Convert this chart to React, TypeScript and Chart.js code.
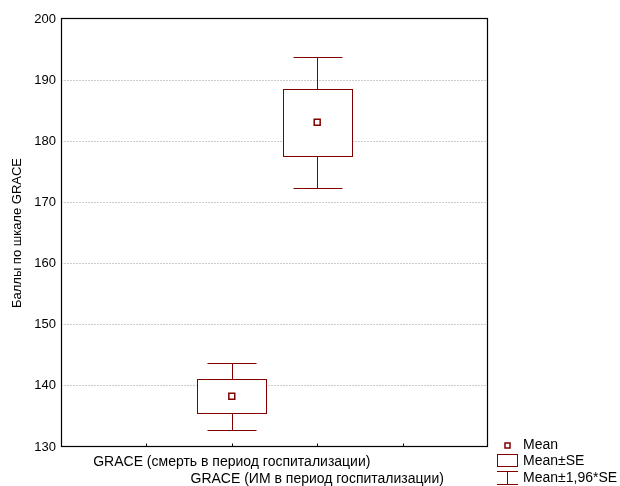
import React, { useEffect, useRef } from 'react';
import { Chart, registerables } from 'chart.js';

Chart.register(...registerables);

// Groups, their slots on the x axis, and the summary statistics per group
const categories = [
  'GRACE (смерть в период госпитализации)',
  'GRACE (ИМ в период госпитализации)',
];
const categorySlots = [2, 3];
const means = [138.3, 183.1];
const standardErrors = [2.8, 5.45];
const ciMultiplier = 1.96;

const yMin = 130;
const yMax = 200;
const yStep = 10;
const xSlotCount = 5;

const yTitle = 'Баллы по шкале GRACE';
const legendLabels = ['Mean', 'Mean±SE', 'Mean±1,96*SE'];

const MAROON = '#800000';
const FONT = '"Liberation Sans", Arial, Helvetica, sans-serif';
const BOX_HALF = 0.405; // half box width, in x-slot units
const CAP_HALF = 0.287; // half whisker-cap width, in x-slot units

const crisp = (v: number) => Math.round(v) + 0.5;

const seBoxPlugin = {
  id: 'seBoxes',
  beforeDatasetsDraw(chart: any) {
    const { ctx, scales } = chart;
    const x = scales.x;
    const y = scales.y;
    ctx.save();
    ctx.strokeStyle = MAROON;
    ctx.lineWidth = 1;
    categorySlots.forEach((slot, i) => {
      const m = means[i];
      const se = standardErrors[i];
      const cx = crisp(x.getPixelForValue(slot));
      const bl = crisp(x.getPixelForValue(slot - BOX_HALF));
      const br = crisp(x.getPixelForValue(slot + BOX_HALF));
      const cl = crisp(x.getPixelForValue(slot - CAP_HALF));
      const cr = crisp(x.getPixelForValue(slot + CAP_HALF));
      const bTop = crisp(y.getPixelForValue(m + se));
      const bBot = crisp(y.getPixelForValue(m - se));
      const wTop = crisp(y.getPixelForValue(m + ciMultiplier * se));
      const wBot = crisp(y.getPixelForValue(m - ciMultiplier * se));

      ctx.beginPath();
      // whiskers
      ctx.moveTo(cx, wTop);
      ctx.lineTo(cx, bTop);
      ctx.moveTo(cx, bBot);
      ctx.lineTo(cx, wBot);
      // caps
      ctx.moveTo(cl, wTop);
      ctx.lineTo(cr, wTop);
      ctx.moveTo(cl, wBot);
      ctx.lineTo(cr, wBot);
      ctx.stroke();
      // box
      ctx.fillStyle = '#ffffff';
      ctx.fillRect(bl, bTop, br - bl, bBot - bTop);
      ctx.strokeRect(bl, bTop, br - bl, bBot - bTop);
    });
    ctx.restore();
  },
  afterDraw(chart: any) {
    const { ctx, chartArea, scales } = chart;
    const x = scales.x;
    const l = crisp(chartArea.left);
    const r = crisp(chartArea.right) - 1;
    const t = crisp(chartArea.top) - 1;
    const b = crisp(chartArea.bottom) - 1;
    ctx.save();
    // frame
    ctx.strokeStyle = '#000000';
    ctx.lineWidth = 1.2;
    ctx.strokeRect(l, t, r - l, b - t);
    // inward x tick marks
    ctx.lineWidth = 1;
    ctx.beginPath();
    for (let v = 1; v < xSlotCount; v++) {
      const px = crisp(x.getPixelForValue(v));
      ctx.moveTo(px, b);
      ctx.lineTo(px, b - 3);
    }
    ctx.stroke();

    // legend
    const lx = 497;
    const tx = 523;
    ctx.strokeStyle = MAROON;
    ctx.fillStyle = '#ffffff';
    ctx.lineWidth = 1.5;
    ctx.fillRect(505, 443, 5, 5);
    ctx.strokeRect(505, 443, 5, 5);
    ctx.lineWidth = 1;
    ctx.strokeRect(lx + 0.5, 454.5, 20, 12);
    ctx.beginPath();
    ctx.moveTo(lx, 471.5);
    ctx.lineTo(lx + 21, 471.5);
    ctx.moveTo(lx + 10.5, 471.5);
    ctx.lineTo(lx + 10.5, 484.5);
    ctx.moveTo(lx, 484.5);
    ctx.lineTo(lx + 21, 484.5);
    ctx.stroke();

    ctx.fillStyle = '#000000';
    ctx.font = `14px ${FONT}`;
    ctx.textAlign = 'left';
    ctx.textBaseline = 'middle';
    ctx.fillText(legendLabels[0], tx, 445);
    ctx.fillText(legendLabels[1], tx, 461);
    ctx.fillText(legendLabels[2], tx, 478);
    ctx.restore();
  },
};

export default function App() {
  const canvasRef = useRef<HTMLCanvasElement | null>(null);

  useEffect(() => {
    const canvas = canvasRef.current;
    if (!canvas) return;

    const chart = new Chart(canvas, {
      type: 'scatter',
      data: {
        datasets: [
          {
            label: legendLabels[0],
            data: categorySlots.map((slot, i) => ({ x: slot, y: means[i] })),
            pointStyle: 'rect',
            pointRadius: 4.2,
            pointHoverRadius: 4.2,
            pointBorderWidth: 1.5,
            pointBorderColor: MAROON,
            pointBackgroundColor: '#ffffff',
          },
        ],
      },
      options: {
        animation: false,
        responsive: false,
        devicePixelRatio: 1,
        events: [],
        layout: { padding: { top: 19, right: 132, bottom: 0, left: 0 } },
        plugins: {
          legend: { display: false },
          tooltip: { enabled: false },
        },
        scales: {
          x: {
            type: 'linear',
            min: 0,
            max: xSlotCount,
            afterFit: (scale: any) => {
              scale.height = 39;
            },
            afterBuildTicks: (scale: any) => {
              const ticks = [];
              for (let v = 0; v <= xSlotCount; v++) ticks.push({ value: v });
              scale.ticks = ticks;
            },
            grid: { display: false, drawTicks: false },
            border: { display: false },
            ticks: {
              autoSkip: false,
              maxRotation: 0,
              minRotation: 0,
              padding: 7,
              color: '#000000',
              font: { family: FONT, size: 14, lineHeight: 1.22 },
              callback: (value: any) => {
                const idx = categorySlots.indexOf(Number(value));
                if (idx < 0) return '';
                return idx % 2 === 0 ? [categories[idx], ''] : ['', categories[idx]];
              },
            },
          },
          y: {
            type: 'linear',
            min: yMin,
            max: yMax,
            afterFit: (scale: any) => {
              scale.width = 61;
            },
            ticks: {
              stepSize: yStep,
              padding: 5,
              color: '#000000',
              font: { family: FONT, size: 13 },
            },
            grid: {
              drawTicks: false,
              color: (c: any) =>
                c.tick && (c.tick.value === yMin || c.tick.value === yMax)
                  ? 'rgba(0,0,0,0)'
                  : '#cccccc',
              lineWidth: 1,
            },
            border: { display: false, dash: [2, 1] },
            title: {
              display: true,
              text: yTitle,
              color: '#000000',
              font: { family: FONT, size: 13 },
              padding: { top: 10, bottom: 0 },
            },
          },
        },
      },
      plugins: [seBoxPlugin],
    });

    return () => chart.destroy();
  }, []);

  return (
    <div style={{ position: 'absolute', left: 0, top: 0, width: 620, height: 486, background: '#ffffff' }}>
      <canvas ref={canvasRef} width={620} height={486} style={{ display: 'block' }} />
    </div>
  );
}
